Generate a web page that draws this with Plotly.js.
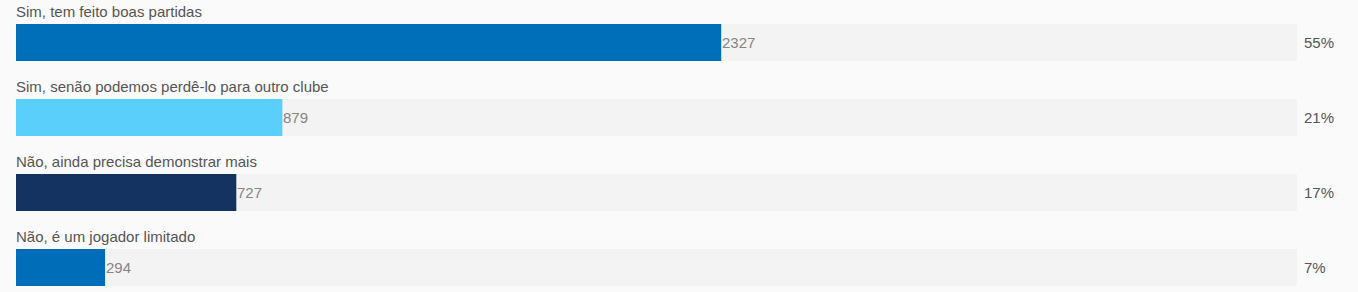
<!DOCTYPE html>
<html>
<head>
<meta charset="utf-8">
<script src="https://cdn.plot.ly/plotly-3.0.1.min.js"></script>
<style>
  html, body { margin: 0; padding: 0; background: #fafafa; }
  #chart { width: 1358px; height: 292px; }
</style>
</head>
<body>
<div id="chart"></div>
<script>
// Poll answers and vote counts
const options = [
  "Sim, tem feito boas partidas",
  "Sim, senão podemos perdê-lo para outro clube",
  "Não, ainda precisa demonstrar mais",
  "Não, é um jogador limitado"
];
const votes = [2327, 879, 727, 294];
const percentLabels = ["55%", "21%", "17%", "7%"];
const barColors = ["#006fba", "#5bcffc", "#143361", "#006db8"];

const total = votes.reduce((a, b) => a + b, 0);
const rows = options.map((_, i) => i);
const font = "Arial, 'Liberation Sans', sans-serif";

// Grey track behind each bar, spanning the full total
const track = {
  type: "bar",
  orientation: "h",
  y: rows,
  x: rows.map(() => total),
  width: 0.4933,
  marker: { color: "#f3f3f3" },
  hoverinfo: "skip",
  showlegend: false
};

const bars = {
  type: "bar",
  orientation: "h",
  y: rows,
  x: votes,
  width: 0.4933,
  marker: { color: barColors },
  hoverinfo: "skip",
  showlegend: false
};

const annotations = [];
rows.forEach(i => {
  // option text above its bar
  annotations.push({
    xref: "paper", yref: "y", x: 0, y: i,
    xanchor: "left", yanchor: "middle", yshift: 31.5, xshift: -2,
    text: options[i], showarrow: false,
    font: { family: font, size: 15, color: "#555555" }
  });
  // vote count right after the bar end
  annotations.push({
    xref: "x", yref: "y", x: votes[i], y: i,
    xanchor: "left", yanchor: "middle", xshift: -1,
    text: String(votes[i]), showarrow: false,
    font: { family: font, size: 15, color: "#858585" }
  });
  // share of the total on the right
  annotations.push({
    xref: "paper", yref: "y", x: 1, y: i,
    xanchor: "left", yanchor: "middle", xshift: 5,
    text: percentLabels[i], showarrow: false,
    font: { family: font, size: 15, color: "#555555" }
  });
});

const layout = {
  width: 1358,
  height: 292,
  margin: { l: 16, r: 61, t: 0, b: 0, pad: 0 },
  paper_bgcolor: "#fafafa",
  plot_bgcolor: "#fafafa",
  barmode: "overlay",
  xaxis: { range: [0, total], visible: false, fixedrange: true },
  yaxis: { range: [3.3267, -0.5667], visible: false, fixedrange: true },
  annotations: annotations
};

Plotly.newPlot("chart", [track, bars], layout, { displayModeBar: false, staticPlot: true });
</script>
</body>
</html>
